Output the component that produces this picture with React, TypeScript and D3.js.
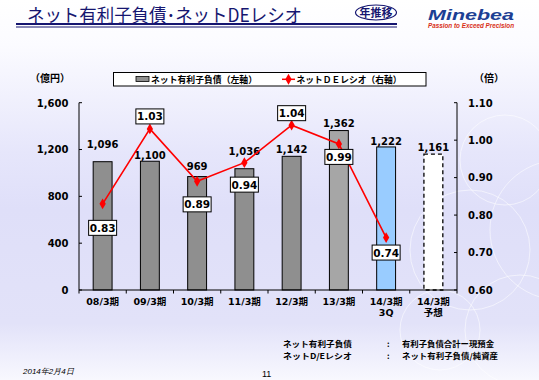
import React from "react";
import * as d3 from "d3";

const categories = ["08/3期", "09/3期", "10/3期", "11/3期", "12/3期", "13/3期", "14/3期|3Q", "14/3期|予想"];
const netDebt = [1096, 1100, 969, 1036, 1142, 1362, 1222, 1161];
const deRatio = [0.83, 1.03, 0.89, 0.94, 1.04, 0.99, 0.74];
const leftTicks = [0, 400, 800, 1200, 1600];
const rightTicks = [0.6, 0.7, 0.8, 0.9, 1.0, 1.1];

const W = 539, H = 380;
const NUM = "'DejaVu Sans', Verdana, sans-serif";
const JP = "'Noto Sans CJK JP', sans-serif";
const MIX = "'DejaVu Sans', 'Noto Sans CJK JP', sans-serif";

// label placement offsets (layout only)
const barLabelOffset = [18, 6, 11, 18, 7, 8, 6, 7];
const ratioLabelOffset = [24, -12.5, 23, 22, -12, 13, 15];

export default function App() {
  const x = d3.scaleBand<string>().domain(categories).range([79, 457]).paddingInner(0).paddingOuter(0);
  const yL = d3.scaleLinear().domain([0, 1600]).range([290, 102.7]);
  const yR = d3.scaleLinear().domain([0.6, 1.1]).range([290, 102.7]);
  const bw = x.bandwidth() * 0.4;
  const cx = (c: string) => (x(c) as number) + x.bandwidth() / 2;

  const ratioPts = deRatio.map((v, i) => [cx(categories[i]), yR(v)] as [number, number]);
  const line = d3.line<[number, number]>()(ratioPts) || "";
  const diamond = d3.symbol().type(d3.symbolDiamond).size(34)() || "";

  const barFill = (i: number) => (i === 7 ? "#ffffff" : i === 6 ? "#99ccff" : i === 5 ? "#a6a6a6" : "#8f8f8f");

  const fmt = d3.format(",");

  return (
    <div style={{ position: "absolute", left: 0, top: 0 }}>
      <svg width={W} height={H} style={{ display: "block" }}>
        <defs>
          <linearGradient id="bg" x1="0" y1="0" x2="0" y2="1">
            <stop offset="0" stopColor="#ffffff" />
            <stop offset="0.12" stopColor="#fbfbff" />
            <stop offset="0.4" stopColor="#e6e6fb" />
            <stop offset="0.55" stopColor="#dfdff9" />
            <stop offset="0.85" stopColor="#e2e2f9" />
            <stop offset="1" stopColor="#f8f8fe" />
          </linearGradient>
        </defs>
        <rect x={0} y={0} width={W} height={H} fill="url(#bg)" />
        {/* decorative faint circles */}
        <g fill="none" stroke="#ffffff" strokeOpacity={0.55} strokeWidth={1}>
          <circle cx={505} cy={160} r={45} />
          <circle cx={470} cy={250} r={60} />
          <circle cx={520} cy={330} r={55} />
          <circle cx={440} cy={330} r={40} />
          <circle cx={560} cy={230} r={70} />
        </g>

        {/* title */}
        <text x={27} y={22} fontFamily={JP} fontSize={18} fill="#161670" textLength={275} lengthAdjust="spacingAndGlyphs">ネット有利子負債･ネットDEレシオ</text>
        <line x1={16} x2={397} y1={24} y2={24} stroke="#161670" strokeWidth={2} />
        <line x1={16} x2={397} y1={27} y2={27} stroke="#161670" strokeWidth={1} />
        <ellipse cx={376} cy={12.5} rx={20.5} ry={7.5} fill="#ffffff" stroke="#161670" strokeWidth={1.2} />
        <text x={376} y={16.5} textAnchor="middle" fontFamily={JP} fontWeight={700} fontSize={11} fill="#161670">年推移</text>
        <text x={428} y={20} fontFamily="'Liberation Sans', Arial, sans-serif" fontWeight={900} fontStyle="italic" fontSize={15} fill="#1c3f94" textLength={86} lengthAdjust="spacingAndGlyphs">Minebea</text>
        <text x={428} y={28} fontFamily="'Liberation Sans', Arial, sans-serif" fontWeight={700} fontStyle="italic" fontSize={6.5} fill="#d83018" textLength={86} lengthAdjust="spacingAndGlyphs">Passion to Exceed Precision</text>

        {/* unit labels */}
        <text x={30} y={82} fontFamily={JP} fontWeight={700} fontSize={10} fill="#000">（億円）</text>
        <text x={474} y={82} fontFamily={JP} fontWeight={700} fontSize={10} fill="#000">（倍）</text>

        {/* legend */}
        <rect x={113.5} y={72.5} width={312.5} height={13.5} fill="#ffffff" stroke="#000" strokeWidth={1} />
        <rect x={136} y={76.5} width={13} height={5} fill="#8f8f8f" stroke="#000" strokeWidth={0.8} />
        <text x={151} y={82.8} fontFamily={JP} fontWeight={700} fontSize={9} fill="#000" textLength={106} lengthAdjust="spacingAndGlyphs">ネット有利子負債（左軸）</text>
        <line x1={282} x2={295} y1={79.3} y2={79.3} stroke="#ff0000" strokeWidth={1.5} />
        <path d={diamond} transform="translate(288.5,79.3)" fill="#ff0000" />
        <text x={296.5} y={82.8} fontFamily={JP} fontWeight={700} fontSize={9} fill="#000" textLength={105} lengthAdjust="spacingAndGlyphs">ネットＤＥレシオ（右軸）</text>

        {/* bars */}
        {netDebt.map((v, i) => (
          <rect key={"b" + i} x={cx(categories[i]) - bw / 2} y={yL(v)} width={bw} height={yL(0) - yL(v)}
            fill={barFill(i)} stroke="#000" strokeWidth={i === 7 ? 1.3 : 1} strokeDasharray={i === 7 ? "4,3" : undefined} />
        ))}
        {netDebt.map((v, i) => (
          <text key={"bl" + i} x={cx(categories[i])} y={yL(v) - barLabelOffset[i] + 4} textAnchor="middle"
            fontFamily={NUM} fontWeight={700} fontSize={10} fill="#000">{fmt(v)}</text>
        ))}

        {/* axes */}
        <line x1={79} x2={79} y1={yL(1600)} y2={290} stroke="#000" />
        <line x1={457} x2={457} y1={yR(1.1)} y2={290} stroke="#000" />
        <line x1={79} x2={457} y1={290} y2={290} stroke="#000" />
        {leftTicks.map((t) => (
          <g key={"lt" + t}>
            <line x1={79} x2={82} y1={yL(t)} y2={yL(t)} stroke="#000" />
            <text x={68.5} y={yL(t) + 3.8} textAnchor="end" fontFamily={NUM} fontWeight={700} fontSize={10} fill="#000">{fmt(t)}</text>
          </g>
        ))}
        {rightTicks.map((t) => (
          <g key={"rt" + t}>
            <line x1={454} x2={457} y1={yR(t)} y2={yR(t)} stroke="#000" />
            <text x={468} y={yR(t) + 3.8} fontFamily={NUM} fontWeight={700} fontSize={10} fill="#000">{t.toFixed(2)}</text>
          </g>
        ))}
        {categories.map((c, i) => (
          <line key={"xt" + i} x1={x(c) as number} x2={x(c) as number} y1={290} y2={293.5} stroke="#000" />
        ))}
        <line x1={457} x2={457} y1={290} y2={293.5} stroke="#000" />
        {categories.map((c, i) => {
          const parts = c.split("|");
          return (
            <text key={"xl" + i} x={cx(c)} y={304.5} textAnchor="middle" fontFamily={MIX} fontWeight={700} fontSize={9.5} fill="#000">
              {parts.map((p, j) => (
                <tspan key={j} x={cx(c)} dy={j === 0 ? 0 : 11.5}>{p}</tspan>
              ))}
            </text>
          );
        })}

        {/* ratio line */}
        <path d={line} fill="none" stroke="#ff0000" strokeWidth={1.6} />
        {ratioPts.map((p, i) => (
          <path key={"m" + i} d={diamond} transform={`translate(${p[0]},${p[1]})`} fill="#ff0000" />
        ))}
        {deRatio.map((v, i) => {
          const px = ratioPts[i][0];
          const py = ratioPts[i][1] + ratioLabelOffset[i];
          return (
            <g key={"rl" + i}>
              <rect x={px - 14} y={py - 7.5} width={28} height={15} fill="#ffffff" stroke="#000" strokeWidth={1} />
              <text x={px} y={py + 4} textAnchor="middle" fontFamily={NUM} fontWeight={700} fontSize={10.5} fill="#000">{v.toFixed(2)}</text>
            </g>
          );
        })}

        {/* footnotes */}
        <g fontFamily={JP} fontWeight={700} fontSize={8} fill="#000">
          <text x={283} y={347} textLength={69} lengthAdjust="spacingAndGlyphs">ネット有利子負債</text>
          <text x={283} y={358.5} textLength={69} lengthAdjust="spacingAndGlyphs">ネットD/Eレシオ</text>
          <text x={387} y={347}>:</text>
          <text x={387} y={358.5}>:</text>
          <text x={402} y={347} textLength={92} lengthAdjust="spacingAndGlyphs">有利子負債合計ー現預金</text>
          <text x={402} y={358.5} textLength={96} lengthAdjust="spacingAndGlyphs">ネット有利子負債/純資産</text>
        </g>
        <text x={23} y={374} fontFamily="'Liberation Sans', Arial, sans-serif" fontStyle="italic" fontSize={8} fill="#000">2014年2月4日</text>
        <text x={262} y={377} fontFamily="'Liberation Sans', Arial, sans-serif" fontSize={9} fill="#000">11</text>
      </svg>
    </div>
  );
}
